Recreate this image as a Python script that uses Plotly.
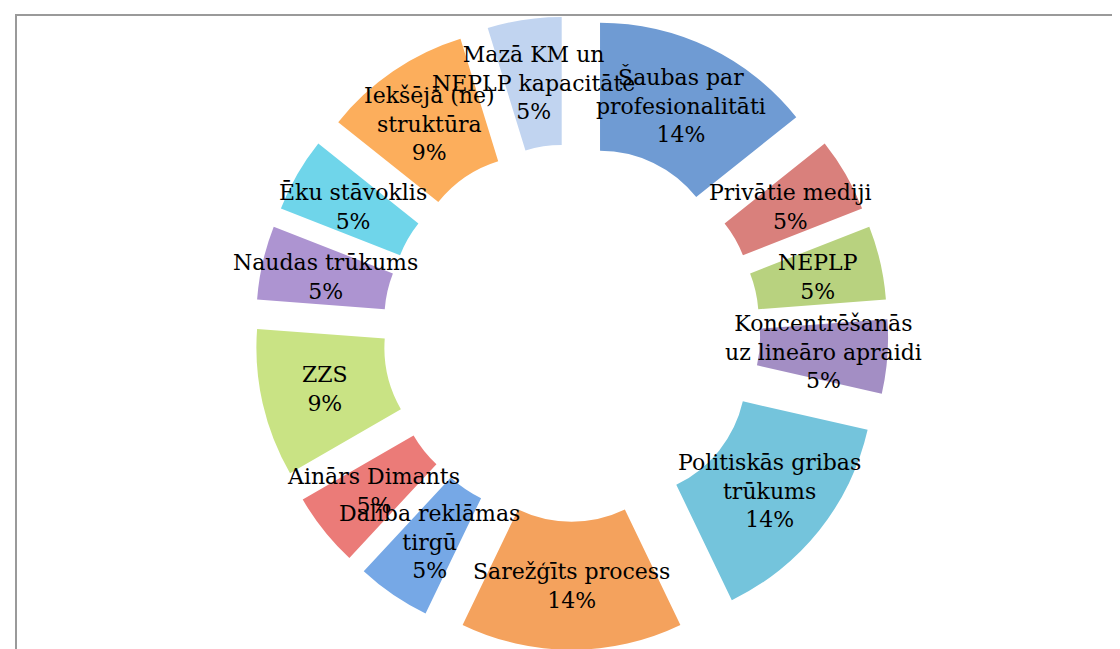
import numpy as np
import plotly.graph_objects as go

# slices, clockwise from 12 o'clock
labels = [
    "Šaubas par<br>profesionalitāti",
    "Privātie mediji",
    "NEPLP",
    "Koncentrēšanās<br>uz lineāro apraidi",
    "Politiskās gribas<br>trūkums",
    "Sarežģīts process",
    "Dalība reklāmas<br>tirgū",
    "Ainārs Dimants",
    "ZZS",
    "Naudas trūkums",
    "Ēku stāvoklis",
    "Iekšējā (ne)<br>struktūra",
    "Mazā KM un<br>NEPLP kapacitāte",
]
mentions = [3, 1, 1, 1, 3, 3, 1, 1, 2, 1, 1, 2, 1]
pct_text = ["14%", "5%", "5%", "5%", "14%", "14%", "5%", "5%", "9%", "5%", "5%", "9%", "5%"]

colors = ["#6f9bd3", "#d9807c", "#b8d27f", "#a38ec4", "#74c4dc", "#f4a25d", "#76a8e6",
          "#eb7b78", "#c9e384", "#ad94d1", "#6fd5ea", "#fcae5c", "#c1d4f0"]

W, H = 1120, 649
cx, cy, r_out, pull, hole = 563.5, 325, 251, 0.262, 0.49
half = r_out * (1 + pull)

fig = go.Figure(go.Pie(
    labels=labels,
    values=mentions,
    textinfo="none",
    marker=dict(colors=colors, line=dict(width=0)),
    hole=hole,
    pull=pull,
    sort=False,
    direction="clockwise",
    rotation=0,
    showlegend=False,
    domain=dict(x=[(cx - half) / W, (cx + half) / W],
                y=[max(0, 1 - (cy + half) / H), min(1, 1 - (cy - half) / H)]),
))

# data labels in the middle of each (pulled) slice, like Excel's centred labels
v = np.array(mentions, dtype=float)
mid = np.radians(360 * (np.cumsum(v) - v / 2) / v.sum())
rad = pull * r_out + r_out * (1 + hole) / 2
lx = cx + rad * np.sin(mid)
ly = cy - rad * np.cos(mid)

annotations = [
    dict(x=x, y=y, xref="x", yref="y", text=f"{l}<br>{p}", showarrow=False,
         xanchor="center", yanchor="middle", align="center",
         font=dict(family="DejaVu Serif", size=22, color="black"))
    for x, y, l, p in zip(lx, ly, labels, pct_text)
]

fig.update_layout(
    width=W, height=H,
    margin=dict(l=0, r=0, t=0, b=0),
    paper_bgcolor="white",
    plot_bgcolor="rgba(0,0,0,0)",
    xaxis=dict(range=[0, W], visible=False, fixedrange=True),
    yaxis=dict(range=[H, 0], visible=False, fixedrange=True),
    annotations=annotations,
    shapes=[dict(type="rect", xref="paper", yref="paper",
                 x0=8 / W, x1=1115 / W, y0=-0.05, y1=1 - 7 / H,
                 line=dict(color="#9a9a9a", width=2))],
)

fig.write_html("out.html")
